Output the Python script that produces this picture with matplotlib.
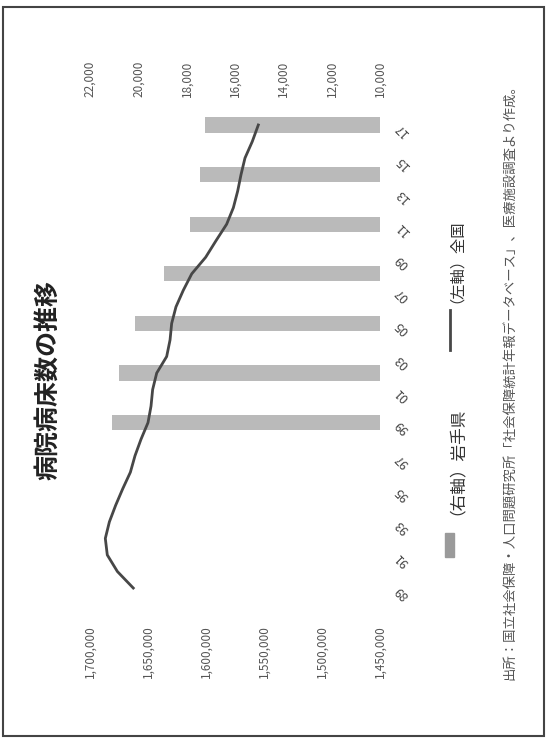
import numpy as np
import matplotlib
matplotlib.use('Agg')
import matplotlib.pyplot as plt
from matplotlib.lines import Line2D
from matplotlib.patches import Rectangle
from matplotlib.ticker import FuncFormatter

plt.rcParams['font.family'] = ['Noto Sans CJK JP', 'DejaVu Sans']

# 全国の病院病床数（左軸）, 1989-2017
years = list(range(1989, 2018))
beds_japan = [1662700, 1676400, 1685100, 1686800, 1683300, 1677900, 1671800,
              1665200, 1661200, 1656000, 1650000, 1647400, 1646000, 1642500,
              1633900, 1631000, 1629600, 1625900, 1619600, 1612300, 1600300,
              1591400, 1582200, 1576400, 1572700, 1569800, 1566400, 1560100,
              1554900]

# 岩手県の病院病床数（右軸）
iwate_years = [1999, 2002, 2005, 2008, 2011, 2014, 2017]
beds_iwate = [21090, 20800, 20140, 18940, 17860, 17450, 17240]

left_ticks = [1450000, 1500000, 1550000, 1600000, 1650000, 1700000]
right_ticks = [10000, 12000, 14000, 16000, 18000, 20000, 22000]
label_years = list(range(1989, 2018, 2))

W, H = 548, 742
fig = plt.figure(figsize=(W / 100, H / 100), dpi=100)
fig.patch.set_facecolor('white')

# plot area in pixel coordinates (chart is laid out turned on its side)
x0, x1 = 90, 380
y_top, y_bot = 116.7, 596.3
ax = fig.add_axes([x0 / W, (H - y_bot) / H, (x1 - x0) / W, (y_bot - y_top) / H])
ax2 = ax.twiny()

fmt = FuncFormatter(lambda v, p: f'{int(v):,}')

# bars on the primary axes (scale shown along the top)
ax.barh(iwate_years, [v - 10000 for v in beds_iwate], left=10000, height=0.92,
        color='#bababa', zorder=1)
ax.set_xlim(22000, 10000)
ax.set_xticks(right_ticks)
ax.xaxis.set_major_formatter(fmt)
ax.xaxis.tick_top()
ax.tick_params(axis='x', length=0, pad=14, labelsize=8.5, labelcolor='#555555',
               labelrotation=90)
ax.set_ylim(1988.5, 2017.5)
ax.set_yticks(label_years)
ax.set_yticklabels([f'{y % 100:02d}' for y in label_years])
ax.yaxis.tick_right()
ax.tick_params(axis='y', length=0, pad=9, labelsize=9, labelcolor='#444444')
for lab in ax.get_yticklabels():
    lab.set_rotation(135)
for s in ax.spines.values():
    s.set_visible(False)

# line on the twin axes (scale shown along the bottom)
ax2.plot(beds_japan, years, color='#474747', linewidth=2.0, zorder=3)
ax2.set_xlim(1700000, 1450000)
ax2.set_xticks(left_ticks)
ax2.xaxis.set_major_formatter(fmt)
ax2.xaxis.tick_bottom()
ax2.tick_params(axis='x', length=0, pad=21, labelsize=8.5, labelcolor='#555555',
                labelrotation=90)
for s in ax2.spines.values():
    s.set_visible(False)

# title
fig.text(48 / W, (H - 380) / H, '病院病床数の推移', rotation=90, ha='center',
         va='center', fontsize=18, fontweight='bold', color='#222222')

# legend
fig.add_artist(Rectangle((445 / W, (H - 557) / H), 9 / W, 24 / H,
                         transform=fig.transFigure, color='#9a9a9a'))
fig.text(448 / W, (H - 515) / H, '（右軸）岩手県', rotation=90, ha='center',
         va='bottom', fontsize=12, color='#333333')
fig.add_artist(Line2D([450 / W, 450 / W], [(H - 350) / H, (H - 310) / H],
                      transform=fig.transFigure, color='#474747', linewidth=2.0))
fig.text(448 / W, (H - 303) / H, '（左軸）全国', rotation=90, ha='center',
         va='bottom', fontsize=11, color='#333333')

# source note
fig.text(510 / W, (H - 680) / H,
         '出所：国立社会保障・人口問題研究所「社会保障統計年報データベース」、医療施設調査より作成。',
         rotation=90, ha='center', va='bottom', fontsize=9.6, color='#555555')

# outer frame
fig.add_artist(Rectangle((3 / W, (H - 736) / H), 541 / W, 729 / H,
                         transform=fig.transFigure, fill=False,
                         edgecolor='#444444', linewidth=1.5))

fig.savefig('out.png', dpi=100, facecolor='white')
